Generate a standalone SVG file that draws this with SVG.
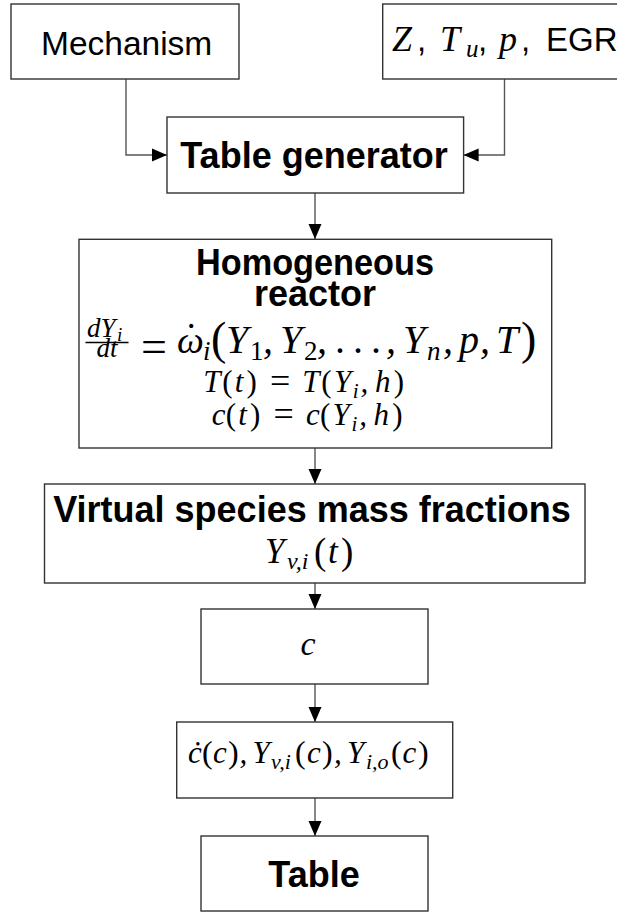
<svg xmlns="http://www.w3.org/2000/svg" width="617" height="912" viewBox="0 0 617 912">
<style>
.box{fill:#fff;stroke:#333;stroke-width:1.4}
.con{fill:none;stroke:#555;stroke-width:1.4}
.sans{font-family:"Liberation Sans",Arial,sans-serif;fill:#000}
.bold{font-family:"Liberation Sans",Arial,sans-serif;font-weight:bold;font-size:36px;fill:#000}
.m{font-family:"Liberation Serif","Times New Roman",serif;font-style:italic;fill:#000}
.r{font-family:"Liberation Serif","Times New Roman",serif;font-style:normal}
</style>
<defs>
<marker id="ah" markerUnits="userSpaceOnUse" markerWidth="16" markerHeight="14" refX="15" refY="7" orient="auto">
<path d="M0,0.5 L15,7 L0,13.5 z" fill="#000"/>
</marker>
</defs>
<rect width="617" height="912" fill="#fff"/>

<g id="connectors">
<path class="con" d="M126,79 V155 H167" marker-end="url(#ah)"/>
<path class="con" d="M504.5,79 V155 H463.6" marker-end="url(#ah)"/>
<path class="con" d="M315,193 V239" marker-end="url(#ah)"/>
<path class="con" d="M315,448 V484" marker-end="url(#ah)"/>
<path class="con" d="M315,583 V609" marker-end="url(#ah)"/>
<path class="con" d="M315,684 V722" marker-end="url(#ah)"/>
<path class="con" d="M315,798 V836" marker-end="url(#ah)"/>
</g>

<g id="mechanism">
<rect class="box" x="11" y="4" width="228" height="75"/>
<text class="sans" x="41" y="55" font-size="33.5">Mechanism</text>
</g>

<g id="parameters">
<rect class="box" x="382.7" y="4" width="250" height="75"/>
<text class="m" font-size="36"><tspan x="392" y="51">Z</tspan><tspan class="sans" x="417" y="51" font-size="33" font-style="normal">,</tspan><tspan x="440" y="51">T</tspan><tspan x="466" y="57" font-size="25">u</tspan><tspan class="sans" x="478" y="51" font-size="33" font-style="normal">,</tspan><tspan x="499" y="51">p</tspan><tspan class="sans" x="521" y="51" font-size="33" font-style="normal">,</tspan><tspan class="sans" x="546" y="51" font-size="33" font-style="normal">EGR</tspan></text>
</g>

<g id="table-generator">
<rect class="box" x="167" y="117" width="296.6" height="76"/>
<text class="bold" x="314" y="168" text-anchor="middle">Table generator</text>
</g>

<g id="homogeneous-reactor">
<rect class="box" x="79" y="239.3" width="472.7" height="208.7"/>
<text class="bold" text-anchor="middle"><tspan x="315" y="275" textLength="238" lengthAdjust="spacingAndGlyphs">Homogeneous</tspan><tspan x="315" y="306">reactor</tspan></text>
<line x1="85.5" y1="342.5" x2="128.5" y2="342.5" stroke="#000" stroke-width="1.3"/>
<text class="m" font-size="27"><tspan x="87" y="337">dY</tspan><tspan x="117" y="341" font-size="19">i</tspan><tspan x="96.5" y="357">dt</tspan></text>
<text class="m" font-size="40"><tspan class="r" x="141" y="362" font-size="46">=</tspan><tspan x="177" y="353" font-size="38">ω</tspan><tspan class="r" x="184.5" y="350">˙</tspan><tspan x="203" y="360" font-size="27">i</tspan><tspan class="r" x="211" y="354" font-size="46">(</tspan><tspan x="226" y="353">Y</tspan><tspan class="r" x="250" y="360" font-size="27">1</tspan><tspan x="263" y="353">,</tspan><tspan x="280" y="353">Y</tspan><tspan class="r" x="304" y="360" font-size="27">2</tspan><tspan x="317" y="353">,</tspan><tspan class="r" x="335 353 371" y="353">...</tspan><tspan x="386" y="353">,</tspan><tspan x="403" y="353">Y</tspan><tspan x="427" y="360" font-size="27">n</tspan><tspan x="443" y="353">,</tspan><tspan x="459" y="353">p</tspan><tspan x="480" y="353">,</tspan><tspan x="496" y="353">T</tspan><tspan class="r" x="521" y="354" font-size="46">)</tspan></text>
<text class="m" font-size="31"><tspan x="203.3" y="392">T</tspan><tspan class="r" x="222.2" y="392">(</tspan><tspan x="234.8" y="392">t</tspan><tspan class="r" x="246.5" y="392">)</tspan><tspan class="r" x="270" y="393" font-size="36">=</tspan><tspan x="302.3" y="392">T</tspan><tspan class="r" x="321.3" y="392">(</tspan><tspan x="333.9" y="392">Y</tspan><tspan x="352.8" y="398" font-size="21">i</tspan><tspan x="360.6" y="392">,</tspan><tspan x="375" y="392">h</tspan><tspan class="r" x="393.7" y="392">)</tspan></text>
<text class="m" font-size="31"><tspan x="211.7" y="425">c</tspan><tspan class="r" x="225.7" y="425">(</tspan><tspan x="238.3" y="425">t</tspan><tspan class="r" x="250" y="425">)</tspan><tspan class="r" x="273.5" y="426" font-size="36">=</tspan><tspan x="305.9" y="425">c</tspan><tspan class="r" x="319.9" y="425">(</tspan><tspan x="332.5" y="425">Y</tspan><tspan x="351.4" y="431" font-size="21">i</tspan><tspan x="359.2" y="425">,</tspan><tspan x="373.6" y="425">h</tspan><tspan class="r" x="392.3" y="425">)</tspan></text>
</g>

<g id="virtual-species">
<rect class="box" x="44.5" y="484" width="540.5" height="99"/>
<text class="bold" x="312" y="522" text-anchor="middle">Virtual species mass fractions</text>
<text class="m" font-size="35"><tspan x="265" y="563">Y</tspan><tspan x="287" y="569" font-size="24">v,i</tspan><tspan class="r" x="314" y="564" font-size="37">(</tspan><tspan x="328" y="563">t</tspan><tspan class="r" x="341" y="564" font-size="37">)</tspan></text>
</g>

<g id="progress-variable">
<rect class="box" x="201" y="609" width="227" height="75"/>
<text class="m" x="308" y="655" font-size="34" text-anchor="middle">c</text>
</g>

<g id="source-terms">
<rect class="box" x="176.7" y="722" width="276" height="76"/>
<text class="m" font-size="31"><tspan x="188" y="763">ċ</tspan><tspan class="r" x="202" y="763" font-size="32">(</tspan><tspan x="213" y="763">c</tspan><tspan class="r" x="228" y="763" font-size="32">)</tspan><tspan x="239.5" y="763">,</tspan><tspan x="252.5" y="763">Y</tspan><tspan x="271" y="769" font-size="22">v,i</tspan><tspan class="r" x="295" y="763" font-size="32">(</tspan><tspan x="307" y="763">c</tspan><tspan class="r" x="322" y="763" font-size="32">)</tspan><tspan x="334" y="763">,</tspan><tspan x="347" y="763">Y</tspan><tspan x="366" y="769" font-size="22">i,o</tspan><tspan class="r" x="391" y="763" font-size="32">(</tspan><tspan x="402.5" y="763">c</tspan><tspan class="r" x="418" y="763" font-size="32">)</tspan></text>
</g>

<g id="table">
<rect class="box" x="201" y="836" width="227" height="75"/>
<text class="bold" x="314" y="887" text-anchor="middle">Table</text>
</g>
</svg>
